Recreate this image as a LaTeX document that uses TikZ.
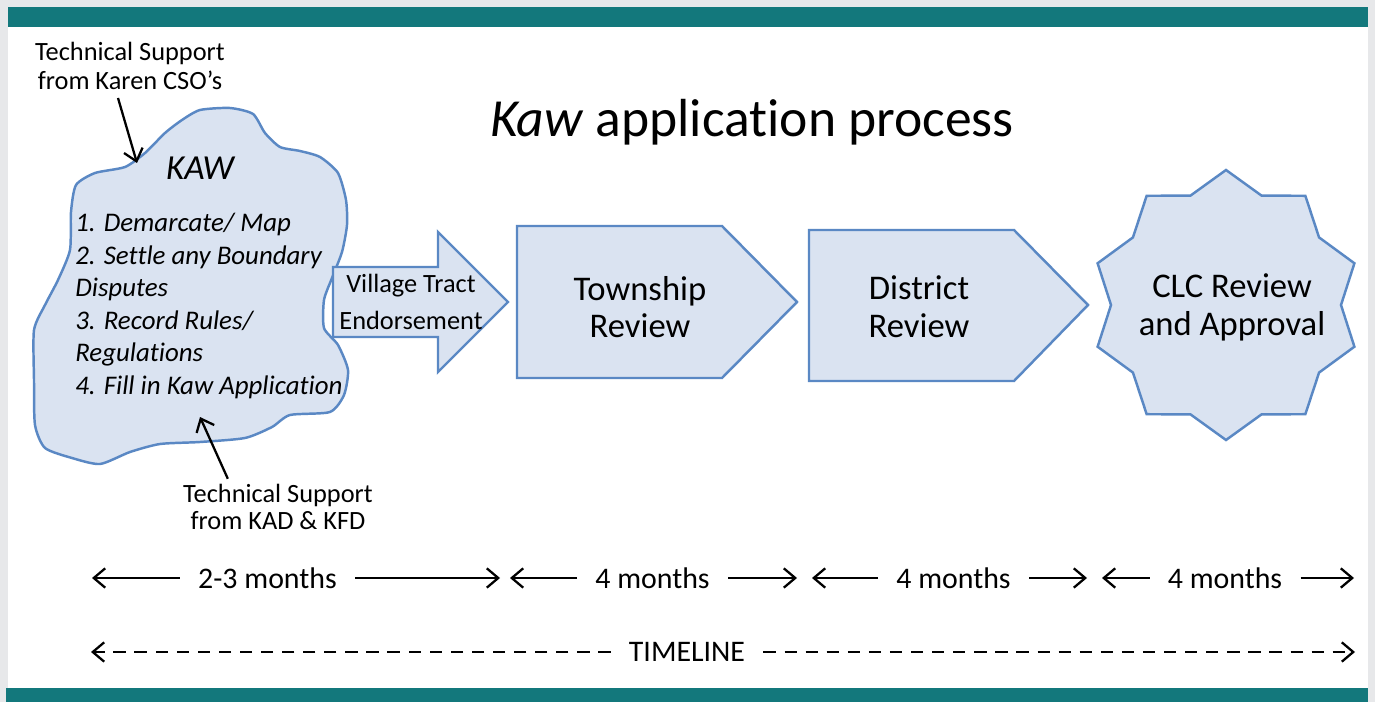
\documentclass[tikz,border=0pt]{standalone}
\usepackage{fontspec}
\setmainfont{Carlito}[Ligatures=NoCommon,Contextuals=NoAlternate]
\usetikzlibrary{arrows.meta}
\definecolor{pagegray}{HTML}{E7E8EA}
\definecolor{barteal}{HTML}{13787C}
\definecolor{kawfill}{HTML}{DAE3F1}
\definecolor{kawline}{HTML}{5A88C4}

\begin{document}
\begin{tikzpicture}[x=0.02cm,y=-0.02cm,
  stepfill/.style={draw=kawline,fill=kawfill,line width=1.4pt,line join=miter},
  boxtext/.style={align=center,inner sep=0pt,font=\fontsize{19.7}{21.5}\selectfont},
  suptext/.style={align=center,inner sep=0pt,font=\fontsize{15}{17}\selectfont},
  span/.style={inner xsep=0.36cm,inner ysep=0pt,font=\fontsize{17}{20}\selectfont},
  tl/.style={-{Straight Barb[length=6.5pt,width=11pt]},line width=1.3pt},
  supp/.style={-{Straight Barb[length=6.5pt,width=11pt]},line width=1.3pt}]
 		\useasboundingbox (0,0) rectangle (1375,702);
 		\fill[pagegray] (0,0) rectangle (1375,702);
 		\fill[white] (8,27) rectangle (1368,688);
 		\fill[barteal] (8,7) rectangle (1368,27);
 		\fill[barteal] (6,688) rectangle (1368,702);
 		\node[anchor=base,inner sep=0pt,font=\fontsize{30.5}{36}\selectfont] (title) at (752,137) {\textit{Kaw} application process};
 		\draw[stepfill] plot[smooth cycle,tension=0.4] coordinates {(200,110) (230,108) (253,114) (265,133) (280,147) (300,151) (320,157) (338,173) (346,200) (347,225) (342,252) (332,278) (324,300) (324,328) (338,345) (348,370) (344,395) (330,412) (290,415) (272,427) (245,438) (200,442) (160,444) (130,452) (100,464) (72,458) (45,448) (35,425) (34,380) (34,330) (45,305) (58,280) (70,250) (71,212) (76,185) (95,173) (125,167) (145,153) (165,133) (182,120)};
 		\node[anchor=base,inner sep=0pt,font=\fontsize{20}{24}\selectfont\itshape] (kaw) at (200,180) {KAW};
 		\node[anchor=west,align=left,inner sep=0pt,font=\fontsize{15.3}{18.5}\selectfont\itshape] (steps) at (75,306) {1. Demarcate/ Map\\2. Settle any Boundary\\Disputes\\3. Record Rules/\\Regulations\\4. Fill in Kaw Application};
 		\draw[stepfill] (333,267) -- (438,267) -- (438,232) -- (508,302) -- (438,372) -- (438,337) -- (333,337) -- cycle;
 		\node[suptext,font=\fontsize{15}{21.5}\selectfont] (tract) at (411,302) {Village Tract\\Endorsement};
 		\draw[stepfill] (517,226) -- (722,226) -- (797,302) -- (722,378) -- (517,378) -- cycle;
 		\node[boxtext] (township) at (640,307) {Township\\Review};
 		\draw[stepfill] (809,230) -- (1014,230) -- (1088,305) -- (1014,381) -- (809,381) -- cycle;
 		\node[boxtext] (district) at (919,307) {District\\Review};
 		\draw[stepfill] (1226,305) +(90:135) \foreach \i [evaluate=\i as \r using {135-20*mod(\i,2)}] in {1,...,19} { -- +({90+18*\i}:\r) } -- cycle;
 		\node[boxtext] (clc) at (1232,307) {CLC Review\\and Approval};
 		\node[suptext] (cso) at (130,66) {Technical Support\\from Karen CSO's};
 		\coordinate (csotail) at (118,98);
 		\coordinate (csotip) at (137,163);
 		\draw[supp] (csotail) -- (csotip);
 		\node[suptext,font=\fontsize{15}{15.5}\selectfont] (kad) at (278,507) {Technical Support\\from KAD \& KFD};
 		\coordinate (kadtip) at (200,417);
 		\draw[supp] (kad.north west) ++(45,-5) -- (kadtip);
 		\foreach \m/\cx/\lx/\rx/\txt in {m1/267.5/92/500/2-3 months, m2/652.5/510/797/4 months, m3/953.5/812/1087/4 months, m4/1225/1102/1354/4 months}{
 			\node[span] (\m) at (\cx,578) {\txt};
 			\coordinate (\m l) at (\lx,578);
 			\coordinate (\m r) at (\rx,578);
 			\draw[tl] (\m.west) -- (\m l);
 			\draw[tl] (\m.east) -- (\m r);
 		}
 		\node[span] (tline) at (687,652) {TIMELINE};
 		\coordinate (tstart) at (91,652);
 		\coordinate (tend) at (1355,652);
 		\draw[tl,dash pattern=on 7pt off 5pt] (tline.west) -- (tstart);
 		\draw[tl,dash pattern=on 7pt off 5pt] (tline.east) -- (tend);
 	\end{tikzpicture}
\end{document}
